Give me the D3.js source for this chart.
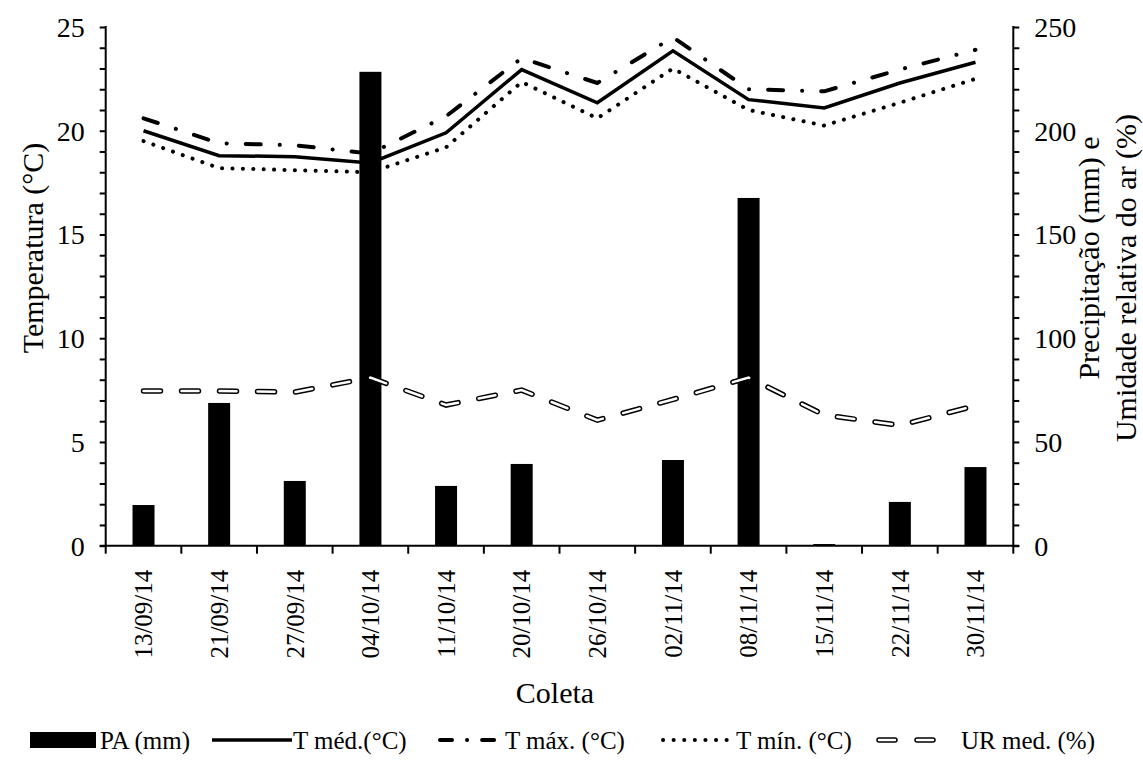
<!DOCTYPE html>
<html>
<head>
<meta charset="utf-8">
<script src="https://cdn.jsdelivr.net/npm/d3@7"></script>
</head>
<body style="margin:0">
<svg id="chart" width="1143" height="764" style="background:#fff"></svg>
<script>
// Collection dates
const coletas = ["13/09/14","21/09/14","27/09/14","04/10/14","11/10/14","20/10/14",
                 "26/10/14","02/11/14","08/11/14","15/11/14","22/11/14","30/11/14"];
// Precipitation (mm) – right axis
const precipitacao = [19.6, 68.8, 31.2, 228.4, 28.8, 39.4, 0, 41.3, 167.6, 0.8, 21.1, 37.9];
// Mean relative humidity (%) – right axis
const urMed = [74.6, 74.6, 74, 81, 67.8, 75, 60.5, 70.5, 81, 63, 58, 67.5];
// Air temperature (°C) – left axis
const tMed = [20.0, 18.8, 18.75, 18.45, 19.9, 22.95, 21.35, 23.85, 21.5, 21.1, 22.3, 23.3];
const tMax = [20.6, 19.4, 19.3, 18.9, 20.7, 23.5, 22.3, 24.5, 22.0, 21.9, 22.95, 23.9];
const tMin = [19.5, 18.2, 18.1, 18.0, 19.2, 22.35, 20.6, 23.0, 21.0, 20.25, 21.35, 22.5];

const leftTicks = [0, 5, 10, 15, 20, 25];
const rightTicks = [0, 50, 100, 150, 200, 250];

const svg = d3.select("#chart");
const plot = { left: 105.7, right: 1013.3, top: 27, bottom: 545.7 };

// Helper: serif black text
function label(sel, size) {
  return sel.attr("font-size", size).attr("fill", "#000")
    .style("font-family", d => '"Liberation Serif"');
}

const x = d3.scaleBand().domain(coletas).range([plot.left, plot.right]).padding(0);
const yT = d3.scaleLinear().domain([0, 25]).range([plot.bottom, plot.top]);
const yP = d3.scaleLinear().domain([0, 250]).range([plot.bottom, plot.top]);
const cx = d => x(d) + x.bandwidth() / 2;

// Precipitation bars
const barW = 22;
svg.append("g").selectAll("rect").data(coletas).join("rect")
  .attr("x", d => cx(d) - barW / 2)
  .attr("width", barW)
  .attr("y", (d, i) => yP(precipitacao[i]))
  .attr("height", (d, i) => yP(0) - yP(precipitacao[i]))
  .attr("fill", "#000");

// Relative humidity: hollow dashed line (black outline with white core)
const lineP = d3.line().x((d, i) => cx(coletas[i])).y(d => yP(d));
const urDash = "17 21";
svg.append("path").attr("d", lineP(urMed)).attr("fill", "none")
  .attr("stroke", "#000").attr("stroke-width", 5.5)
  .attr("stroke-dasharray", urDash).attr("stroke-linecap", "round");
svg.append("path").attr("d", lineP(urMed)).attr("fill", "none")
  .attr("stroke", "#fff").attr("stroke-width", 2.5)
  .attr("stroke-dasharray", urDash).attr("stroke-linecap", "round");

// Temperature lines
const lineT = d3.line().x((d, i) => cx(coletas[i])).y(d => yT(d));
svg.append("path").attr("d", lineT(tMax)).attr("fill", "none")
  .attr("stroke", "#000").attr("stroke-width", 4)
  .attr("stroke-dasharray", "15 19 0.1 19").attr("stroke-linecap", "round");
svg.append("path").attr("d", lineT(tMed)).attr("fill", "none")
  .attr("stroke", "#000").attr("stroke-width", 3.5);
svg.append("path").attr("d", lineT(tMin)).attr("fill", "none")
  .attr("stroke", "#000").attr("stroke-width", 4)
  .attr("stroke-dasharray", "0.1 10.3").attr("stroke-linecap", "round");

// Axes
const axisW = 2;
const tickFont = 28;
const leftAxis = svg.append("g").attr("transform", `translate(${plot.left},0)`);
leftAxis.call(d3.axisLeft(yT).tickValues(d3.range(0, 26, 1)).tickSize(6).tickFormat(""));
leftAxis.selectAll(".domain").remove();
leftAxis.append("line").attr("y1", plot.top - 1).attr("y2", plot.bottom + 1)
  .attr("stroke", "#000").attr("stroke-width", axisW);
leftAxis.selectAll(".tick line").attr("stroke", "#000").attr("stroke-width", axisW);

const rightAxis = svg.append("g").attr("transform", `translate(${plot.right},0)`);
rightAxis.call(d3.axisRight(yP).tickValues(d3.range(0, 251, 10)).tickSize(6).tickFormat(""));
rightAxis.selectAll(".domain").remove();
rightAxis.append("line").attr("y1", plot.top - 1).attr("y2", plot.bottom + 1)
  .attr("stroke", "#000").attr("stroke-width", axisW);
rightAxis.selectAll(".tick line").attr("stroke", "#000").attr("stroke-width", axisW);

// Tick labels (drawn outside the axis groups so they keep the serif face)
const labels = svg.append("g");
label(labels.selectAll("text.l").data(leftTicks).join("text").attr("class", "l"), tickFont)
  .attr("x", plot.left - 21).attr("y", d => yT(d)).attr("dy", "0.35em")
  .attr("text-anchor", "end").text(d => d);
label(labels.selectAll("text.r").data(rightTicks).join("text").attr("class", "r"), tickFont)
  .attr("x", plot.right + 21).attr("y", d => yP(d)).attr("dy", "0.35em")
  .attr("text-anchor", "start").text(d => d);

// Category axis: ticks between dates, rotated labels
const bottom = svg.append("g");
bottom.append("line").attr("x1", plot.left - 6).attr("x2", plot.right + 6)
  .attr("y1", plot.bottom).attr("y2", plot.bottom)
  .attr("stroke", "#000").attr("stroke-width", axisW);
const edges = coletas.map(d => x(d)).concat([plot.right]);
bottom.selectAll("line.tk").data(edges).join("line").attr("class", "tk")
  .attr("x1", d => d).attr("x2", d => d)
  .attr("y1", plot.bottom).attr("y2", plot.bottom + 8)
  .attr("stroke", "#000").attr("stroke-width", axisW);
label(bottom.selectAll("text").data(coletas).join("text"), 25)
  .attr("transform", d => `translate(${cx(d)},${plot.bottom + 24}) rotate(-90)`)
  .attr("dy", "0.35em").attr("text-anchor", "end").text(d => d);

// Axis titles
const titleFont = 30;
const titles = [
  { t: "Temperatura (°C)", x: 32, y: 248, r: -90 },
  { t: "Precipitação (mm) e", x: 1088, y: 258, r: -90 },
  { t: "Umidade relativa do ar (%)", x: 1125, y: 278, r: -90 },
  { t: "Coleta", x: 555, y: 692, r: 0 }
];
label(svg.append("g").selectAll("text").data(titles).join("text"), titleFont)
  .attr("transform", d => `translate(${d.x},${d.y}) rotate(${d.r})`)
  .attr("dy", "0.35em").attr("text-anchor", "middle").text(d => d.t);

// Legend
const leg = svg.append("g");
const ly = 740;
const legendFont = 25;
const legendTexts = [
  { t: "PA (mm)", x: 100 },
  { t: "T méd.(°C)", x: 293 },
  { t: "T máx. (°C)", x: 505 },
  { t: "T mín. (°C)", x: 736 },
  { t: "UR med. (%)", x: 961 }
];
leg.append("rect").attr("x", 30).attr("y", ly - 8).attr("width", 66).attr("height", 16).attr("fill", "#000");
leg.append("line").attr("x1", 212).attr("x2", 292).attr("y1", ly).attr("y2", ly)
  .attr("stroke", "#000").attr("stroke-width", 3.5);
leg.append("line").attr("x1", 440).attr("x2", 503).attr("y1", ly).attr("y2", ly)
  .attr("stroke", "#000").attr("stroke-width", 4)
  .attr("stroke-dasharray", "12 15 0.1 15 12").attr("stroke-linecap", "round");
leg.append("line").attr("x1", 663).attr("x2", 731).attr("y1", ly).attr("y2", ly)
  .attr("stroke", "#000").attr("stroke-width", 4)
  .attr("stroke-dasharray", "0.1 10.5").attr("stroke-linecap", "round");
[[879, 895], [917, 933]].forEach(([a, b]) => {
  leg.append("line").attr("x1", a).attr("x2", b).attr("y1", ly).attr("y2", ly)
    .attr("stroke", "#000").attr("stroke-width", 5.5).attr("stroke-linecap", "round");
  leg.append("line").attr("x1", a).attr("x2", b).attr("y1", ly).attr("y2", ly)
    .attr("stroke", "#fff").attr("stroke-width", 2.5).attr("stroke-linecap", "round");
});
label(leg.selectAll("text").data(legendTexts).join("text"), legendFont)
  .attr("x", d => d.x).attr("y", ly).attr("dy", "0.35em").text(d => d.t);
</script>
</body>
</html>
